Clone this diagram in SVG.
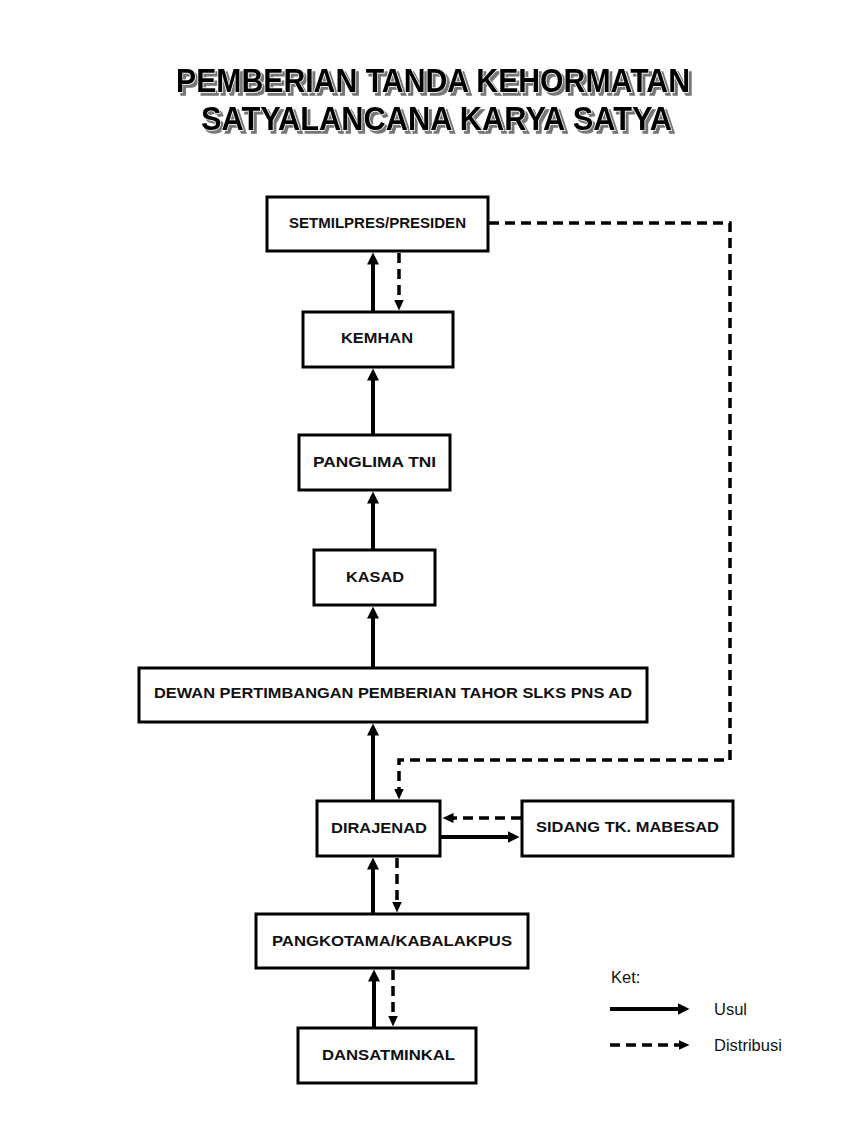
<svg xmlns="http://www.w3.org/2000/svg" width="853" height="1137" viewBox="0 0 853 1137">
<style>
.box{fill:#fff;stroke:#000;stroke-width:3}
.lbl{font-family:"Liberation Sans",Arial,sans-serif;font-weight:bold;font-size:15px;fill:#111;text-anchor:middle}
.leg{font-family:"Liberation Sans",Arial,sans-serif;font-size:16.5px;fill:#111}
.ttl{font-family:"Liberation Sans",Arial,sans-serif;font-weight:bold;font-size:33px;text-anchor:middle;fill:#000;stroke:#fff;stroke-width:1.4;paint-order:stroke;filter:url(#shadow)}
.solid{fill:none;stroke:#000;stroke-width:4;marker-end:url(#ah)}
.dash{fill:none;stroke:#000;stroke-width:3.5;stroke-dasharray:10 6;marker-end:url(#ahd)}
</style>
<defs>
<filter id="shadow" x="-5%" y="-30%" width="110%" height="160%">
<feOffset in="SourceAlpha" dx="2.5" dy="2.5" result="off"/>
<feFlood flood-color="#777"/>
<feComposite in2="off" operator="in" result="sh"/>
<feMerge><feMergeNode in="sh"/><feMergeNode in="SourceGraphic"/></feMerge>
</filter>
<marker id="ah" markerUnits="userSpaceOnUse" markerWidth="13" markerHeight="13" refX="0.5" refY="6" orient="auto">
<path d="M0,0 L12,6 L0,12 z" fill="#000"/>
</marker>
<marker id="ahd" markerUnits="userSpaceOnUse" markerWidth="12" markerHeight="12" refX="0.5" refY="5" orient="auto">
<path d="M0,0 L11,5 L0,10 z" fill="#000"/>
</marker>
</defs>
<rect width="853" height="1137" fill="#fff"/>
<g id="title">
<text class="ttl" x="433" y="92" textLength="514" lengthAdjust="spacingAndGlyphs">PEMBERIAN TANDA KEHORMATAN</text>
<text class="ttl" x="436.5" y="130" textLength="471" lengthAdjust="spacingAndGlyphs">SATYALANCANA KARYA SATYA</text>
</g>
<g id="connectors">
<line class="solid" x1="373" y1="311" x2="373" y2="264"/>
<line class="dash" x1="399" y1="253" x2="399" y2="300"/>
<line class="solid" x1="373" y1="434" x2="373" y2="380"/>
<line class="solid" x1="373" y1="549" x2="373" y2="503"/>
<line class="solid" x1="373" y1="667" x2="373" y2="618"/>
<line class="solid" x1="373" y1="801" x2="373" y2="735"/>
<path class="dash" d="M489,223 H730 V760 H399 V789"/>
<line class="dash" x1="521" y1="818" x2="453" y2="818"/>
<line class="solid" x1="441" y1="837" x2="508" y2="837"/>
<line class="solid" x1="373" y1="913" x2="373" y2="869"/>
<line class="dash" x1="397" y1="858" x2="397" y2="902"/>
<line class="solid" x1="374" y1="1027" x2="374" y2="981"/>
<line class="dash" x1="393" y1="970" x2="393" y2="1016"/>
</g>
<g id="n-setmilpres"><rect class="box" x="267" y="197" width="221" height="54"/><text class="lbl" x="377.5" y="228" textLength="177" lengthAdjust="spacingAndGlyphs">SETMILPRES/PRESIDEN</text></g>
<g id="n-kemhan"><rect class="box" x="303" y="312" width="150" height="55"/><text class="lbl" x="377" y="343" textLength="72" lengthAdjust="spacingAndGlyphs">KEMHAN</text></g>
<g id="n-panglima"><rect class="box" x="299" y="435" width="151" height="55"/><text class="lbl" x="374.5" y="467" textLength="123" lengthAdjust="spacingAndGlyphs">PANGLIMA TNI</text></g>
<g id="n-kasad"><rect class="box" x="314" y="550" width="121" height="55"/><text class="lbl" x="375" y="582" textLength="58" lengthAdjust="spacingAndGlyphs">KASAD</text></g>
<g id="n-dewan"><rect class="box" x="139" y="668" width="508" height="54"/><text class="lbl" x="393" y="698" textLength="478" lengthAdjust="spacingAndGlyphs">DEWAN PERTIMBANGAN PEMBERIAN TAHOR SLKS PNS AD</text></g>
<g id="n-dirajenad"><rect class="box" x="317" y="801" width="123" height="55"/><text class="lbl" x="379" y="833" textLength="96" lengthAdjust="spacingAndGlyphs">DIRAJENAD</text></g>
<g id="n-sidang"><rect class="box" x="522" y="801" width="211" height="55"/><text class="lbl" x="627.5" y="832" textLength="183" lengthAdjust="spacingAndGlyphs">SIDANG TK. MABESAD</text></g>
<g id="n-pangkotama"><rect class="box" x="256" y="914" width="272" height="54"/><text class="lbl" x="392" y="946" textLength="240" lengthAdjust="spacingAndGlyphs">PANGKOTAMA/KABALAKPUS</text></g>
<g id="n-dansatminkal"><rect class="box" x="298" y="1028" width="178" height="55"/><text class="lbl" x="388.5" y="1060" textLength="133" lengthAdjust="spacingAndGlyphs">DANSATMINKAL</text></g>
<g id="legend">
<text class="leg" x="611" y="983">Ket:</text>
<line class="solid" x1="610" y1="1009" x2="678" y2="1009"/>
<text class="leg" x="714" y="1015">Usul</text>
<line class="dash" x1="610" y1="1045" x2="679" y2="1045"/>
<text class="leg" x="714" y="1051">Distribusi</text>
</g>
</svg>
